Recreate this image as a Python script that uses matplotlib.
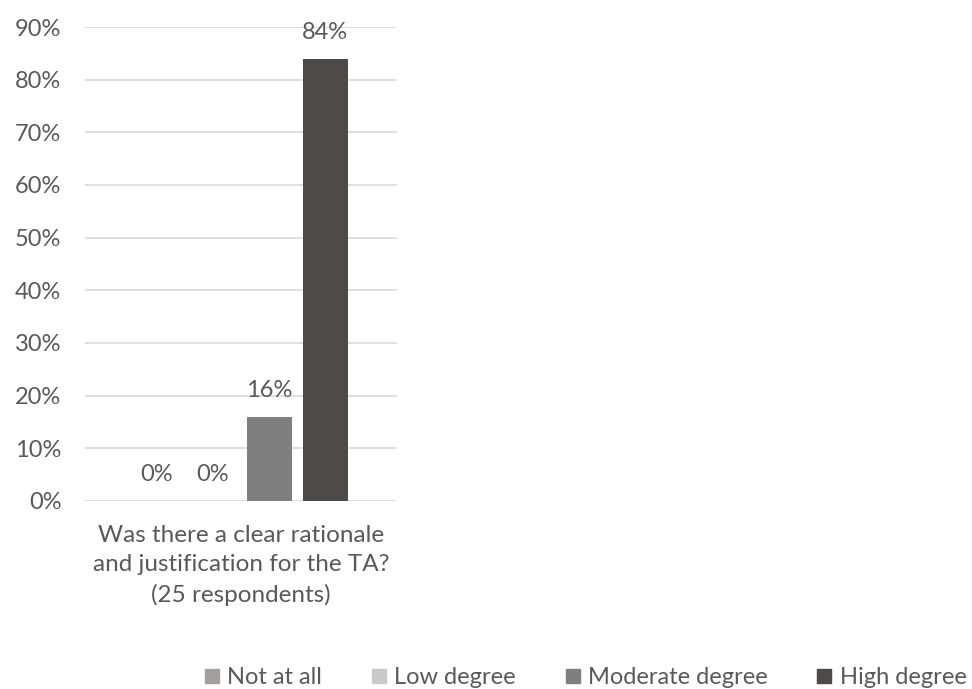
import matplotlib.pyplot as plt
from matplotlib.lines import Line2D
import numpy as np

plt.rcParams['font.family'] = ['Lato', 'DejaVu Sans']

question = "Was there a clear rationale\nand justification for the TA?\n(25 respondents)"
responses = ["Not at all", "Low degree", "Moderate degree", "High degree"]
shares = [0, 0, 16, 84]
colors = ["#A69E9E", "#C9C9C9", "#7F7F7F", "#4E4A49"]
text_grey = "#595959"

fig = plt.figure(figsize=(9.72, 6.89), dpi=100)
ax = fig.add_axes([0.0875, 0.2729, 0.3210, 0.6879])

offsets = np.arange(len(responses)) - 1.5
for off, val, col, lab in zip(offsets, shares, colors, responses):
    ax.bar(off, val / 100, width=0.8, color=col, label=lab, zorder=3)
    ax.text(off, val / 100 + 0.03, f"{val}%", ha='center', va='bottom',
            fontsize=17, color=text_grey)

ax.set_xlim(-2.78, 2.78)
ax.set_ylim(0, 0.9)
ax.set_yticks(np.arange(0, 0.91, 0.1))
ax.set_yticklabels([f"{int(round(t * 100))}%" for t in np.arange(0, 0.91, 0.1)])
ax.yaxis.grid(True, color="#D9D9D9", linewidth=1.2, zorder=0)
ax.set_xticks([0])
ax.set_xticklabels([question], fontsize=17.5, color=text_grey, linespacing=1.5)
ax.tick_params(axis='x', length=0, pad=17)
ax.tick_params(axis='y', length=0, pad=17, labelsize=17, labelcolor=text_grey)
for sp in ax.spines.values():
    sp.set_visible(False)

handles = [Line2D([], [], marker='s', linestyle='none', markersize=10,
                  markerfacecolor=c, markeredgecolor=c) for c in colors]
fig.legend(handles, responses, loc='center right', bbox_to_anchor=(976 / 972, 1 - 678 / 689),
           ncol=4, frameon=False, fontsize=17, labelcolor=text_grey,
           handletextpad=0.15, columnspacing=1.9, handlelength=1.0, borderaxespad=0)

fig.savefig("out.png", dpi=100)
